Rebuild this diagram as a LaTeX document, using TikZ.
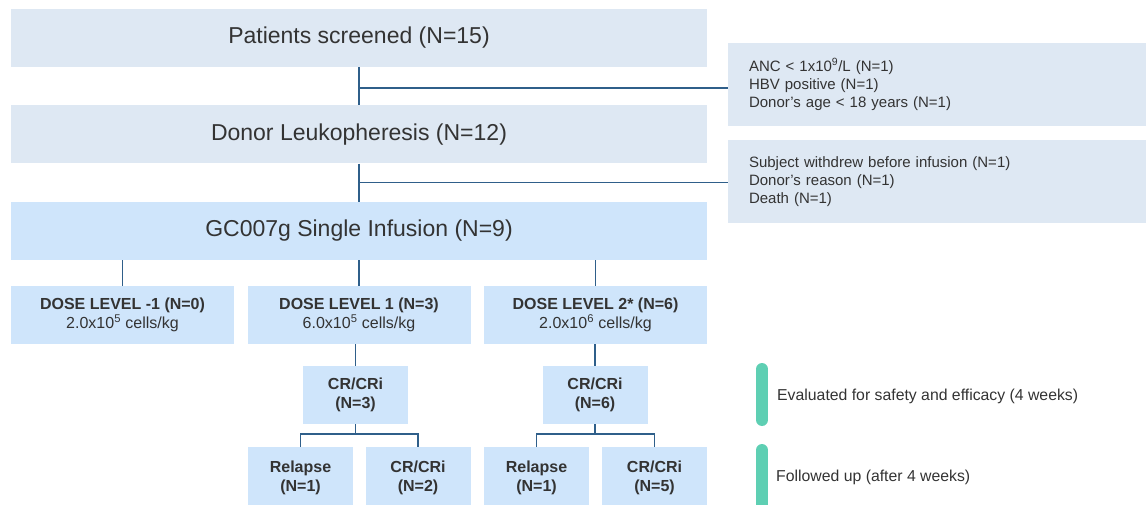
\documentclass[tikz,border=0pt]{standalone}
\usepackage{fontspec}
\setmainfont{Liberation Sans}
\usetikzlibrary{positioning,calc}
\definecolor{greyblue}{RGB}{222,232,243}
\definecolor{paleblue}{RGB}{207,229,251}
\definecolor{linkblue}{RGB}{47,95,138}
\definecolor{textgrey}{RGB}{51,51,51}
\definecolor{mint}{RGB}{94,207,179}

\begin{document}
\begin{tikzpicture}[
      x=1pt,y=-1pt,
      every node/.style={text=textgrey,inner sep=0pt},
      stage/.style={fill=greyblue,minimum width=696pt,minimum height=58pt,font=\fontsize{23}{27}\selectfont},
      infusion/.style={stage,fill=paleblue},
      excl/.style={fill=greyblue,minimum width=418pt,minimum height=83pt,text width=376pt,align=left,font=\fontsize{15}{18}\selectfont},
      dose/.style={fill=paleblue,minimum width=223pt,minimum height=58pt,align=center,font=\fontsize{16}{19}\selectfont},
      resp/.style={dose,minimum width=105pt,font=\fontsize{16}{19}\selectfont\bfseries},
      link/.style={draw=linkblue,line width=1.5pt},
      bar/.style={draw=mint,line width=12pt,line cap=round},
      legend/.style={anchor=west,font=\fontsize{15.8}{18}\selectfont}
    ]
      \useasboundingbox (0,0) rectangle (1146,505);
      \clip (0,0) rectangle (1146,505);
      \node[stage] (screen) at (359,38) {Patients screened (N=15)};
      \node[stage] (donor) at (359,134.5) {Donor Leukopheresis (N=12)};
      \node[infusion] (single) at (359,231) {GC007g Single Infusion (N=9)};
      \node[excl] (excla) at (937,84.5) {ANC < 1x10\textsuperscript{9}/L (N=1)\\HBV positive (N=1)\\Donor's age < 18 years (N=1)};
      \node[excl] (exclb) at (937,181.5) {Subject withdrew before infusion (N=1)\\Donor's reason (N=1)\\Death (N=1)};
      \node[dose] (dosem) at (122.5,315) {\textbf{DOSE LEVEL -1 (N=0)}\\2.0x10\textsuperscript{5} cells/kg};
      \node[dose] (doseo) at (359,315) {\textbf{DOSE LEVEL 1 (N=3)}\\6.0x10\textsuperscript{5} cells/kg};
      \node[dose] (doset) at (595.5,315) {\textbf{DOSE LEVEL 2* (N=6)}\\2.0x10\textsuperscript{6} cells/kg};
      \node[resp] (cro) at (355.5,395) {CR/CRi\\(N=3)};
      \node[resp] (crt) at (595,395) {CR/CRi\\(N=6)};
      \node[resp,minimum height=62pt] (relo) at (300.5,478) {Relapse\\(N=1)};
      \node[resp,minimum height=62pt] (remo) at (418,478) {CR/CRi\\(N=2)};
      \node[resp,minimum height=62pt] (relt) at (536.5,478) {Relapse\\(N=1)};
      \node[resp,minimum height=62pt] (remt) at (654.5,478) {CR/CRi\\(N=5)};
      \coordinate (ja) at ($(screen.south)!0.55!(donor.north)$);
      \coordinate (jb) at ($(donor.south)!0.5!(single.north)$);
      \draw[link] (screen) -- (donor);
      \draw[link] (donor) -- (single);
      \draw[link] (ja) -- (ja -| excla.west);
      \draw[link] (jb) -- (jb -| exclb.west);
      \draw[link] (single.south -| dosem) -- (dosem);
      \draw[link] (single) -- (doseo);
      \draw[link] (single.south -| doset) -- (doset);
      \draw[link] (doseo.south -| cro) -- (cro);
      \draw[link] (doset.south -| crt) -- (crt);
      \draw[link] (cro.south) -- ++(0,10) -| (relo.north);
      \draw[link] (cro.south) ++(0,10) -| (remo.north);
      \draw[link] (crt.south) -- ++(0,10) -| (relt.north);
      \draw[link] (crt.south) ++(0,10) -| (remt.north);
      \draw[bar] (762,369) -- (762,420);
      \draw[bar] (762,450) -- (762,530);
      \node[legend] (evalnote) at (777,396) {Evaluated for safety and efficacy (4 weeks)};
      \node[legend] (follownote) at (776,477) {Followed up (after 4 weeks)};
    \end{tikzpicture}
\end{document}
